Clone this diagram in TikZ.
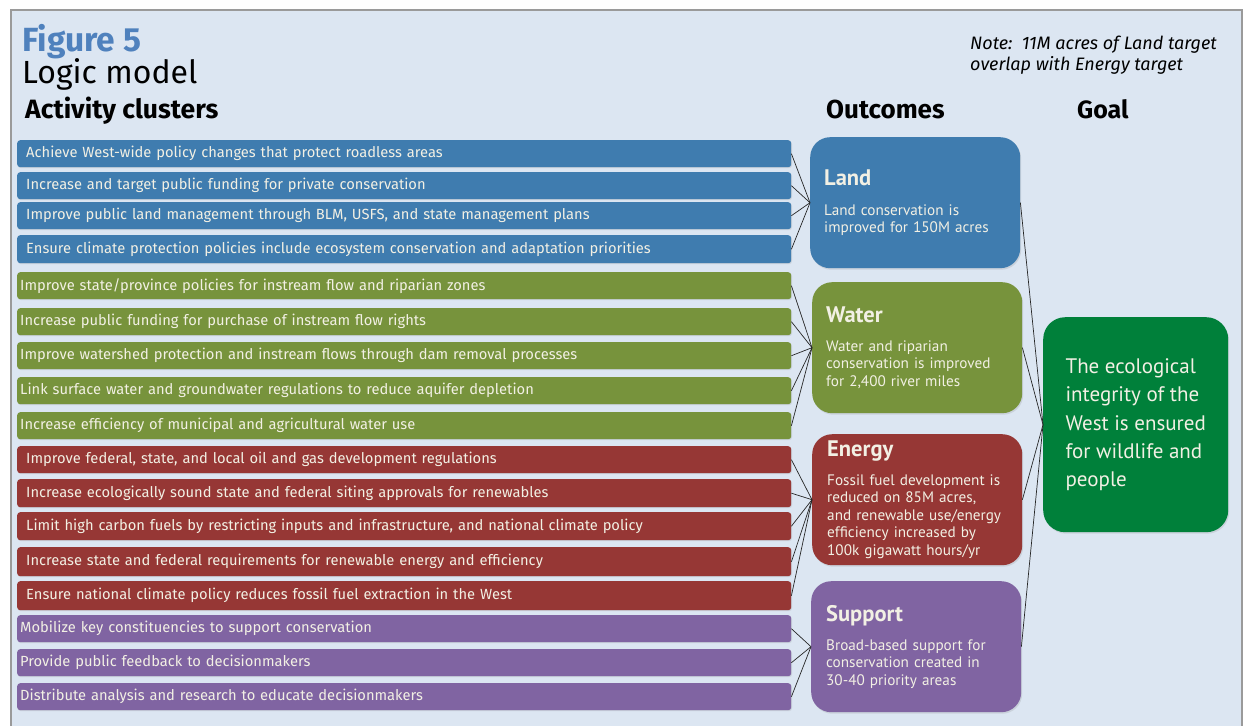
\documentclass[tikz,border=0pt]{standalone}
\usepackage{fontspec}
\setmainfont{PT Sans}
\newfontfamily\widefont{Fira Sans}
\usetikzlibrary{shadows}
\definecolor{panelblue}{HTML}{DCE6F2}
\definecolor{framegray}{HTML}{9A9A9A}
\definecolor{figblue}{HTML}{4F81BD}
\definecolor{landblue}{HTML}{3F7CAF}
\definecolor{watergreen}{HTML}{77933C}
\definecolor{energyred}{HTML}{963735}
\definecolor{supportpurple}{HTML}{8064A2}
\definecolor{goalgreen}{HTML}{00803A}
\definecolor{cream}{HTML}{F2F0E4}

\begin{document}
\begin{tikzpicture}[x=1pt,y=-1pt,
  heading/.style={anchor=base west,inner sep=0pt},
  activity/.style={anchor=north west,rounded corners=3pt,minimum height=27pt,
    text=cream,align=left,font=\widefont\fontsize{14.7}{16}\selectfont,
    drop shadow={opacity=0.2,shadow xshift=0.8pt,shadow yshift=-1pt}},
  landact/.style={activity,fill=landblue,inner xsep=9pt,text width=756pt},
  wateract/.style={activity,fill=watergreen,inner xsep=3pt,text width=768pt},
  energyact/.style={activity,fill=energyred,inner xsep=9pt,text width=756pt},
  supportact/.style={activity,fill=supportpurple,inner xsep=3pt,text width=768pt},
  outcome/.style={anchor=north west,rounded corners=20pt,minimum width=210pt,
    minimum height=131pt,text=cream,align=left,inner xsep=14pt,text width=182pt,
    font=\fontsize{15.2}{17.5}\selectfont,
    drop shadow={opacity=0.2,shadow xshift=1pt,shadow yshift=-1.5pt}},
  link/.style={draw=black!85,line width=0.7pt}
]
\newcommand{\outtitle}[1]{{\fontsize{22.5}{24}\selectfont\bfseries #1}}
\useasboundingbox (0,0) rectangle (1244,725);
\fill[white] (0,0) rectangle (1244,725);
\draw[fill=panelblue,draw=framegray,line width=1.5pt] (11,10) rectangle (1242,735);

% headings
\node[heading,text=figblue,font=\widefont\fontsize{33.5}{35}\selectfont\bfseries] (fig) at (22,52) {Figure 5};
\node[heading,font=\widefont\fontsize{32}{34}\selectfont] (logic) at (22,84) {Logic model};
\node[heading,font=\widefont\fontsize{26.5}{28}\selectfont\bfseries] (act) at (25,118) {Activity clusters};
\node[heading,font=\widefont\fontsize{26}{28}\selectfont\bfseries] (outc) at (826,118) {Outcomes};
\node[heading,font=\widefont\fontsize{25}{27}\selectfont\bfseries] (goalhead) at (1077,118) {Goal};
\node[anchor=north west,inner sep=0pt,align=left,font=\widefont\itshape\fontsize{18}{20.5}\selectfont] (note) at (970,36)
  {Note:\ \ 11M acres of Land target\\overlap with Energy target};

% activity clusters
\node[landact] (l1) at (17,140) {Achieve West-wide policy changes that protect roadless areas};
\node[landact] (l2) at (17,172) {Increase and target public funding for private conservation};
\node[landact] (l3) at (17,202) {Improve public land management through BLM, USFS, and state management plans};
\node[landact,minimum height=28pt] (l4) at (17,235) {Ensure climate protection policies include ecosystem conservation and adaptation priorities};

\node[wateract] (w1) at (17,272) {Improve state/province policies for instream flow and riparian zones};
\node[wateract] (w2) at (17,308) {Increase public funding for purchase of instream flow rights};
\node[wateract] (w3) at (17,342) {Improve watershed protection and instream flows through dam removal processes};
\node[wateract] (w4) at (17,377) {Link surface water and groundwater regulations to reduce aquifer depletion};
\node[wateract] (w5) at (17,412) {Increase efficiency of municipal and agricultural water use};

\node[energyact] (e1) at (17,446) {Improve federal, state, and local oil and gas development regulations};
\node[energyact,minimum height=28pt] (e2) at (17,479) {Increase ecologically sound state and federal siting approvals for renewables};
\node[energyact,minimum height=28pt] (e3) at (17,512) {Limit high carbon fuels by restricting inputs and infrastructure, and national climate policy};
\node[energyact,minimum height=29pt] (e4) at (17,547) {Increase state and federal requirements for renewable energy and efficiency};
\node[energyact,minimum height=29pt] (e5) at (17,581) {Ensure national climate policy reduces fossil fuel extraction in the West};

\node[supportact] (s1) at (17,615) {Mobilize key constituencies to support conservation};
\node[supportact] (s2) at (17,649) {Provide public feedback to decisionmakers};
\node[supportact] (s3) at (17,683) {Distribute analysis and research to educate decisionmakers};

% outcomes
\node[outcome,fill=landblue] (land) at (810,137)
  {\outtitle{Land}\\[12pt]Land conservation is\\improved for 150M acres};
\node[outcome,fill=watergreen,inner xsep=10pt] (water) at (812,282)
  {\outtitle{Water}\\[11.5pt]Water and riparian\\conservation is improved\\for 2,400 river miles};
\node[outcome,fill=energyred,inner xsep=15pt,text width=180pt] (energy) at (812,434)
  {\outtitle{Energy}\\[11.5pt]Fossil fuel development is\\reduced on 85M acres,\\and renewable use/energy\\efficiency increased by\\100k gigawatt hours/yr};
\node[outcome,fill=supportpurple,inner xsep=15pt,text width=180pt] (support) at (811,581)
  {\outtitle{Support}\\[11.5pt]Broad-based support for\\conservation created in\\30-40 priority areas};

% goal
\node[anchor=north west,fill=goalgreen,rounded corners=22pt,minimum width=185pt,minimum height=215pt,
  text=cream,align=left,font=\fontsize{21}{28.3}\selectfont,
  drop shadow={opacity=0.2,shadow xshift=1pt,shadow yshift=-1.5pt}] (goal) at (1043,317)
  {The ecological\\integrity of the\\West is ensured\\for wildlife and\\people};

% connectors
\foreach \i in {1,...,4} \draw[link] (l\i.east) -- (land.west);
\foreach \i in {1,...,5} \draw[link] (w\i.east) -- (water.west);
\foreach \i in {1,...,5} \draw[link] (e\i.east) -- (energy.west);
\foreach \i in {1,...,3} \draw[link] (s\i.east) -- (support.west);
\foreach \o in {land,water,energy,support} \draw[link] (\o.east) -- (goal.west);
\end{tikzpicture}
\end{document}
